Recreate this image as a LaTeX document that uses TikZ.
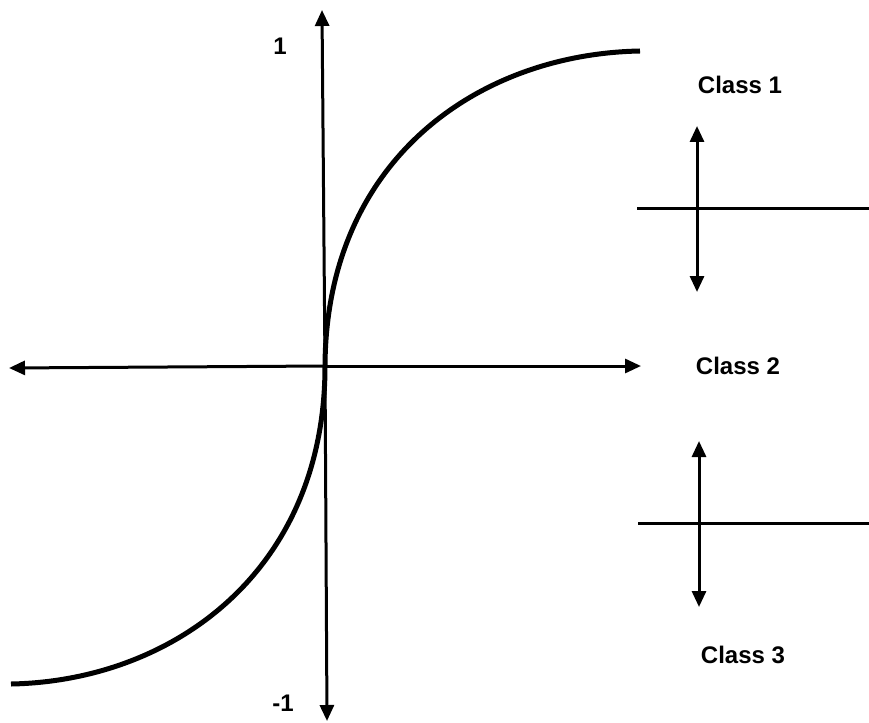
\documentclass[tikz,border=0pt]{standalone}
\usepackage{fontspec}
\setmainfont{Liberation Sans}
\usetikzlibrary{arrows.meta}
\begin{document}
\begin{tikzpicture}[x=1pt,y=-1pt,
  axis/.style={line width=3pt,-{Triangle[length=16pt,width=14pt]}},
  dbl/.style={line width=3pt,{Triangle[length=16pt,width=14pt]}-{Triangle[length=16pt,width=14pt]}},
  bar/.style={line width=3pt},
  curve/.style={line width=5pt},
  lbl/.style={font=\fontsize{24}{26}\selectfont\bfseries,inner sep=0pt}]
\useasboundingbox (0,0) rectangle (869,722);
% axes
\coordinate (o) at (325,366);
\coordinate (ytop) at (322,10);
\coordinate (ybot) at (327,721);
\coordinate (xl) at (9,368);
\coordinate (xr) at (641,366);
\draw[axis] (o) -- (ytop);
\draw[axis] (o) -- (ybot);
\draw[axis] (o) -- (xl);
\draw[axis] (o) -- (xr);
% sigmoid-like curve
\coordinate (cl) at (11,684);
\coordinate (cr) at (640,51);
\draw[curve] (cl) .. controls (172,681) and (325,572) .. (o)
  .. controls (326,160) and (478,54) .. (cr);
% axis labels
\node[lbl] (one) at (280,46) {1};
\node[lbl] (mone) at (283,703) {-1};
% class labels
\node[lbl] (c1) at (740,85) {Class 1};
\node[lbl] (c2) at (738,366) {Class 2};
\node[lbl] (c3) at (743,655) {Class 3};
% right markers
\coordinate (h1a) at (637,208);
\coordinate (h1b) at (869,208);
\coordinate (v1a) at (697,126);
\coordinate (v1b) at (697,292);
\draw[bar] (h1a) -- (h1b);
\draw[dbl] (v1a) -- (v1b);
\coordinate (h2a) at (638,523);
\coordinate (h2b) at (869,523);
\coordinate (v2a) at (699,441);
\coordinate (v2b) at (699,607);
\draw[bar] (h2a) -- (h2b);
\draw[dbl] (v2a) -- (v2b);
\end{tikzpicture}
\end{document}
